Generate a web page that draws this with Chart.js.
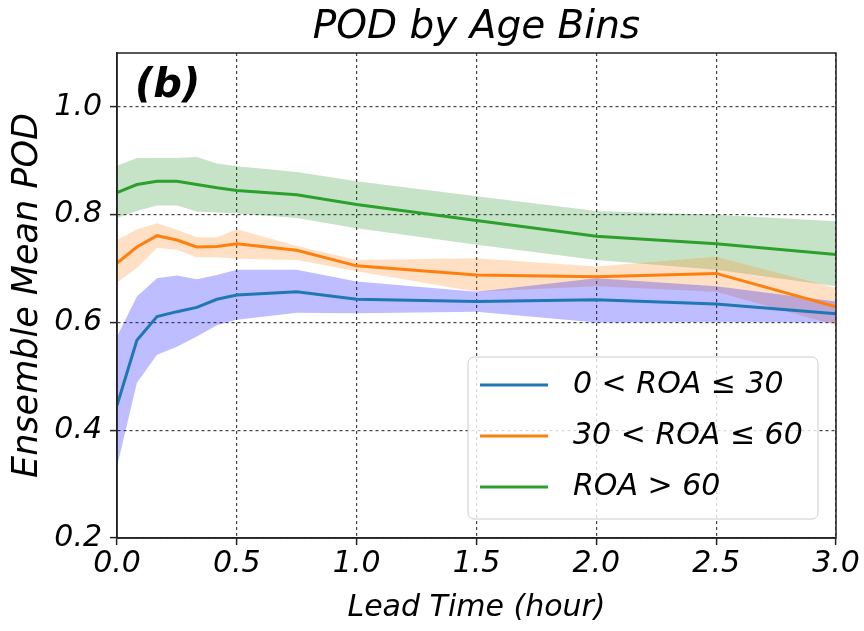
<!DOCTYPE html>
<html>
<head>
<meta charset="utf-8">
<script src="https://cdn.jsdelivr.net/npm/chart.js@4"></script>
<style>
  html, body { margin: 0; padding: 0; background: #fff; }
  #wrap { width: 864px; height: 631px; }
</style>
</head>
<body>
<div id="wrap"><canvas id="chart"></canvas></div>
<script>
// lead time in hours
const leadTimes = [0, 0.083, 0.167, 0.25, 0.333, 0.417, 0.5, 0.75, 1.0, 1.5, 2.0, 2.5, 3.0];

// 0 < ROA <= 30
const roaLowMean  = [0.446, 0.567, 0.611, 0.620, 0.628, 0.643, 0.651, 0.657, 0.643, 0.639, 0.642, 0.634, 0.616];
const roaLowUpper = [0.574, 0.648, 0.682, 0.687, 0.680, 0.688, 0.698, 0.698, 0.676, 0.657, 0.682, 0.667, 0.639];
const roaLowLower = [0.332, 0.488, 0.540, 0.555, 0.574, 0.595, 0.605, 0.618, 0.617, 0.620, 0.600, 0.601, 0.600];

// 30 < ROA <= 60
const roaMidMean  = [0.710, 0.740, 0.761, 0.753, 0.740, 0.741, 0.746, 0.734, 0.705, 0.688, 0.685, 0.691, 0.629];
const roaMidUpper = [0.753, 0.773, 0.784, 0.772, 0.758, 0.758, 0.773, 0.742, 0.716, 0.719, 0.704, 0.722, 0.664];
const roaMidLower = [0.674, 0.701, 0.738, 0.735, 0.721, 0.721, 0.718, 0.716, 0.695, 0.657, 0.667, 0.657, 0.595];

// ROA > 60
const roaHighMean  = [0.841, 0.856, 0.862, 0.862, 0.856, 0.850, 0.845, 0.837, 0.819, 0.789, 0.760, 0.746, 0.726];
const roaHighUpper = [0.891, 0.905, 0.905, 0.905, 0.907, 0.895, 0.890, 0.879, 0.862, 0.834, 0.807, 0.800, 0.788];
const roaHighLower = [0.794, 0.807, 0.817, 0.817, 0.806, 0.804, 0.802, 0.794, 0.775, 0.744, 0.716, 0.698, 0.667];

const seriesLabels = ['0 < ROA \u2264 30', '30 < ROA \u2264 60', 'ROA > 60'];
const xTicks = [0, 0.5, 1.0, 1.5, 2.0, 2.5, 3.0];
const yTicks = [0.2, 0.4, 0.6, 0.8, 1.0];
const chartTitle = 'POD by Age Bins';

const FONT = 'DejaVu Sans';
const toPts = ys => ys.map((y, i) => ({ x: leadTimes[i], y: y }));

const lineSet = (label, ys, color) => ({
  label: label, data: toPts(ys), borderColor: color, backgroundColor: color,
  borderWidth: 3, pointRadius: 0, tension: 0, fill: false, isMain: true,
});
const bandSet = (ys, color, fillTo) => ({
  label: '', data: toPts(ys), borderWidth: 0, borderColor: 'transparent',
  backgroundColor: color, pointRadius: 0, tension: 0, fill: fillTo,
});

// title over the plot, frame, panel tag and legend box
const extras = {
  id: 'extras',
  afterDraw(chart) {
    const { ctx, chartArea: a } = chart;
    ctx.save();
    ctx.fillStyle = '#000';
    ctx.font = 'italic 39px ' + FONT;
    ctx.textAlign = 'center';
    ctx.textBaseline = 'middle';
    ctx.fillText(chartTitle, (a.left + a.right) / 2, 28);
    ctx.textAlign = 'left';

    ctx.strokeStyle = '#222';
    ctx.lineWidth = 1.5;
    ctx.strokeRect(a.left, a.top, a.right - a.left, a.bottom - a.top);

    ctx.font = 'italic bold 40px ' + FONT;
    ctx.textBaseline = 'alphabetic';
    ctx.fillText('(b)', a.left + 18, a.top + 44);

    // legend
    const w = 350, h = 162;
    const x0 = a.right - 18 - w, y0 = a.bottom - 19 - h;
    ctx.beginPath();
    ctx.roundRect(x0, y0, w, h, 6);
    ctx.fillStyle = 'rgba(255,255,255,0.8)';
    ctx.fill();
    ctx.strokeStyle = '#ccc';
    ctx.lineWidth = 1;
    ctx.stroke();
    const mains = chart.data.datasets.filter(d => d.isMain);
    ctx.font = 'italic 30px ' + FONT;
    ctx.textBaseline = 'middle';
    mains.forEach((d, i) => {
      const y = y0 + 28 + i * 51;
      ctx.strokeStyle = d.borderColor;
      ctx.lineWidth = 3;
      ctx.beginPath();
      ctx.moveTo(x0 + 12, y);
      ctx.lineTo(x0 + 80, y);
      ctx.stroke();
      ctx.fillStyle = '#000';
      ctx.fillText(d.label, x0 + 105, y);
    });
    ctx.restore();
  }
};

const gridOpts = {
  color: '#444',
  lineWidth: 1.2,
  tickLength: 7,
  tickColor: '#222',
  tickWidth: 1.5,
};
const borderOpts = { display: true, color: '#222', width: 1.5, dash: [3, 3] };

new Chart(document.getElementById('chart'), {
  type: 'line',
  data: {
    datasets: [
      lineSet(seriesLabels[0], roaLowMean, '#1f77b4'),
      lineSet(seriesLabels[1], roaMidMean, '#ff7f0e'),
      lineSet(seriesLabels[2], roaHighMean, '#2ca02c'),
      bandSet(roaLowUpper, 'rgba(0,0,255,0.26)', '+1'),
      bandSet(roaLowLower, 'rgba(0,0,255,0.26)', false),
      bandSet(roaMidUpper, 'rgba(255,127,14,0.24)', '+1'),
      bandSet(roaMidLower, 'rgba(255,127,14,0.24)', false),
      bandSet(roaHighUpper, 'rgba(0,128,0,0.22)', '+1'),
      bandSet(roaHighLower, 'rgba(0,128,0,0.22)', false),
    ],
  },
  options: {
    responsive: true,
    maintainAspectRatio: false,
    animation: false,
    layout: { padding: { left: 0, right: 28, top: 53, bottom: 0 } },
    plugins: {
      legend: { display: false },
      tooltip: { enabled: false },
      title: { display: false },
    },
    scales: {
      x: {
        type: 'linear',
        min: 0,
        max: 3,
        afterBuildTicks: s => { s.ticks = xTicks.map(v => ({ value: v })); },
        afterFit: s => { s.height = 93; },
        ticks: {
          color: '#000',
          padding: 1,
          maxRotation: 0,
          font: { family: FONT, size: 30, style: 'italic' },
          callback: v => v.toFixed(1),
        },
        grid: gridOpts,
        border: borderOpts,
        title: {
          display: true,
          text: 'Lead Time (hour)',
          color: '#000',
          font: { family: FONT, size: 30, style: 'italic' },
          padding: { top: 0, bottom: 5 },
        },
      },
      y: {
        type: 'linear',
        min: 0.2,
        max: 1.1,
        afterBuildTicks: s => { s.ticks = yTicks.map(v => ({ value: v })); },
        afterFit: s => { s.width = 117; },
        ticks: {
          color: '#000',
          padding: 8,
          font: { family: FONT, size: 30, style: 'italic' },
          callback: v => v.toFixed(1),
        },
        grid: gridOpts,
        border: borderOpts,
        title: {
          display: true,
          text: 'Ensemble Mean POD',
          color: '#000',
          font: { family: FONT, size: 35, style: 'italic' },
          padding: { top: 7, bottom: 0 },
        },
      },
    },
  },
  plugins: [extras],
});
</script>
</body>
</html>
